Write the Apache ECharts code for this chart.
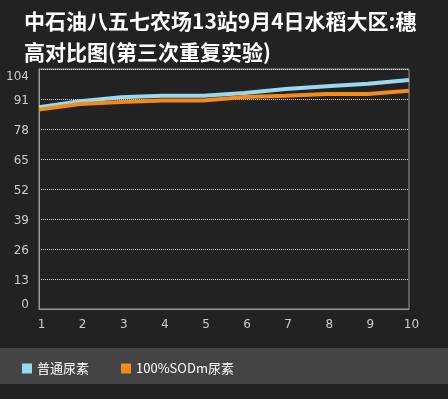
<!DOCTYPE html>
<html lang="zh">
<head>
  <meta charset="UTF-8">
  <title>穗高对比图</title>
  <script src="https://cdn.jsdelivr.net/npm/echarts@6.0.0/dist/echarts.min.js"></script>
  <style>
    html, body { margin: 0; padding: 0; background: #222222; }
  </style>
</head>
<body>
  <div id="chart" style="width: 448px;height:399px;"></div>

<script>
  // 数据
  const days = ['1', '2', '3', '4', '5', '6', '7', '8', '9', '10']
  const putong = [87.4, 90.0, 91.8, 92.4, 92.4, 93.6, 95.3, 96.5, 97.6, 99.2]
  const sodm = [86.4, 88.8, 89.7, 90.4, 90.4, 91.9, 92.4, 93.2, 93.2, 94.6]
  const seriesNames = ['普通尿素', '100%SODm尿素']

  const labelFont = 'Verdana, "DejaVu Sans", sans-serif'

  const myChart = echarts.init(document.getElementById('chart'))
  const option = {
    backgroundColor: '#222222',
    title: {
      text: '中石油八五七农场13站9月4日水稻大区:穗\n高对比图(第三次重复实验)',
      left: 19, top: 1,
      textStyle: {
        color: '#ffffff', fontSize: 21, fontWeight: 'bold', lineHeight: 31,
        fontFamily: '"Noto Sans CJK SC", sans-serif'
      }
    },
    graphic: [{
      type: 'rect', left: 0, top: 348,
      shape: { width: 448, height: 36 },
      style: { fill: '#444444' }, z: -1
    }],
    legend: {
      data: seriesNames,
      left: 17, top: 357,
      icon: 'rect', itemWidth: 10, itemHeight: 10, itemGap: 32,
      textStyle: { color: '#ffffff', fontSize: 13, fontFamily: '"Noto Sans CJK SC", sans-serif' }
    },
    grid: {
      left: 39, right: 39, top: 69, bottom: 90,
      show: true, borderColor: '#999999', borderWidth: 1
    },
    xAxis: {
      type: 'category', data: days, boundaryGap: false,
      axisLine: { lineStyle: { color: '#999999' } },
      axisTick: { show: false },
      axisLabel: { color: '#cccccc', fontSize: 12, margin: 10, padding: [0, 0, 0, 5], fontFamily: labelFont },
      splitLine: { show: false }
    },
    yAxis: {
      type: 'value', min: 0, max: 104, interval: 13,
      axisLine: { show: true, lineStyle: { color: '#999999' } },
      axisTick: { show: false },
      axisLabel: {
        color: '#cccccc', fontSize: 12, margin: 10, fontFamily: labelFont,
        formatter: function (v) {
          if (v === 104) return '{top|' + v + '}'
          if (v === 0) return '{bot|' + v + '}'
          return '{mid|' + v + '}'
        },
        rich: {
          top: { color: '#cccccc', fontSize: 12, fontFamily: labelFont, padding: [16, 0, 0, 0] },
          mid: { color: '#cccccc', fontSize: 12, fontFamily: labelFont, padding: [4, 0, 0, 0] },
          bot: { color: '#cccccc', fontSize: 12, fontFamily: labelFont, padding: [0, 0, 8, 0] }
        }
      },
      splitLine: { show: true, lineStyle: { color: '#dddddd', type: 'dotted', width: 1 } }
    },
    series: [
      {
        name: seriesNames[0], type: 'line', data: putong,
        symbol: 'none', color: '#99d8ee',
        lineStyle: { width: 4, color: '#99d8ee' }
      },
      {
        name: seriesNames[1], type: 'line', data: sodm,
        symbol: 'none', color: '#f38b16',
        lineStyle: { width: 4, color: '#f38b16' }
      }
    ]
  }
  myChart.setOption(option)
</script>
</body>
</html>
